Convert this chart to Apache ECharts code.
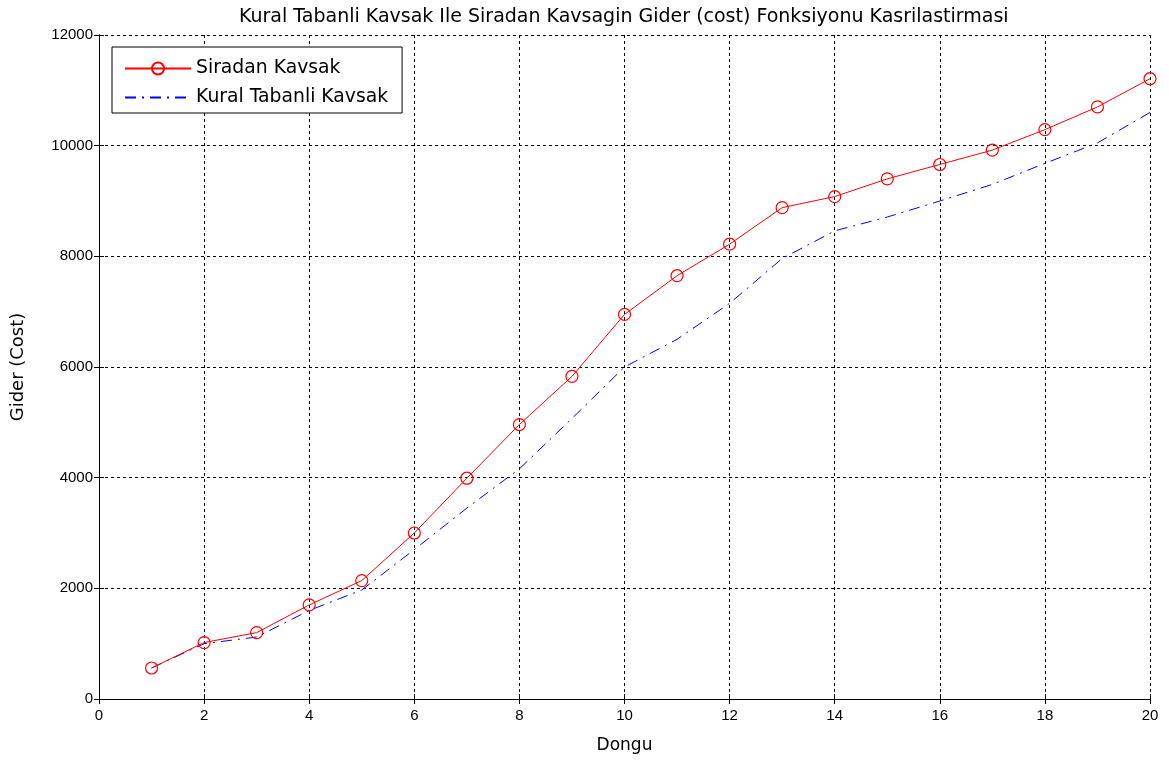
<!DOCTYPE html>
<html><head><meta charset="utf-8">
<script src="https://cdn.jsdelivr.net/npm/echarts@6/dist/echarts.min.js"></script>
<style>html,body{margin:0;padding:0;background:#fff}#c{width:1169px;height:760px}</style>
</head><body><div id="c"></div>
<script>
const iterations = [1,2,3,4,5,6,7,8,9,10,11,12,13,14,15,16,17,18,19,20];
const siradan = [560,1020,1200,1700,2140,3000,3990,4960,5830,6950,7650,8220,8880,9080,9400,9660,9920,10290,10700,11210];
const kural = [560,1000,1120,1600,1970,2700,3450,4160,5070,6000,6500,7150,7960,8460,8710,9000,9300,9680,10050,10600];
const xTicks = [0,2,4,6,8,10,12,14,16,18,20];
const yTicks = [0,2000,4000,6000,8000,10000,12000];
const FONT = 'Liberation Sans';
const WFONT = 'DejaVu Sans';
const chart = echarts.init(document.getElementById('c'), null, {renderer:'canvas'});
const pair = arr => iterations.map((x,i)=>[x, arr[i]]);
const axisCommon = {
  axisLine:{show:true,lineStyle:{color:'#000',width:1}},
  axisTick:{show:true,inside:true,length:5,lineStyle:{color:'#000'}},
  splitLine:{show:true,lineStyle:{color:'#000',type:[3,3],width:1}},
  axisLabel:{color:'#000',fontFamily:FONT,fontSize:15}
};
chart.setOption({
  animation:false,
  backgroundColor:'#fff',
  title:{text:'Kural Tabanli Kavsak Ile Siradan Kavsagin Gider (cost) Fonksiyonu Kasrilastirmasi',
    left:234, top:3, textStyle:{fontFamily:WFONT,fontSize:19,fontWeight:'normal',color:'#000'}},
  grid:{left:99,right:19,top:35,bottom:61,containLabel:false},
  legend:{orient:'vertical',left:112,top:47,backgroundColor:'#fff',borderColor:'#000',borderWidth:1,
    padding:[12,14,6,12],itemGap:10,itemWidth:66,itemHeight:15,
    textStyle:{fontFamily:WFONT,fontSize:18.8,color:'#000'},
    data:[{name:'Siradan Kavsak'},{name:'Kural Tabanli Kavsak',itemStyle:{opacity:0}}]},
  xAxis:[
    Object.assign({}, axisCommon, {type:'value',min:0,max:20,interval:2,name:'Dongu',nameLocation:'middle',nameGap:38,
      nameTextStyle:{fontFamily:WFONT,fontSize:17,color:'#000'},
      axisLabel:Object.assign({},axisCommon.axisLabel,{margin:9,formatter:v=>xTicks.includes(v)?String(v):''})}),
    {type:'value',position:'top',min:0,max:20,interval:2,axisLine:{show:true,lineStyle:{color:'#000'}},
      axisTick:{show:true,inside:true,length:5,lineStyle:{color:'#000'}},axisLabel:{show:false},splitLine:{show:false}}
  ],
  yAxis:[
    Object.assign({}, axisCommon, {type:'value',min:0,max:12000,interval:2000,name:'Gider (Cost)',nameLocation:'middle',nameGap:72,
      nameTextStyle:{fontFamily:WFONT,fontSize:18,color:'#000'},
      axisLabel:Object.assign({},axisCommon.axisLabel,{margin:6,formatter:v=>yTicks.includes(v)?String(v):''})}),
    {type:'value',position:'right',min:0,max:12000,interval:2000,axisLine:{show:true,lineStyle:{color:'#000'}},
      axisTick:{show:true,inside:true,length:5,lineStyle:{color:'#000'}},axisLabel:{show:false},splitLine:{show:false}}
  ],
  series:[
    {name:'Siradan Kavsak',type:'line',data:pair(siradan),symbol:'circle',symbolSize:12,showAllSymbol:true,
      lineStyle:{color:'#ff0000',width:1},itemStyle:{color:'rgba(0,0,0,0)',borderColor:'#ff0000',borderWidth:1.2},z:3},
    {name:'Kural Tabanli Kavsak',type:'line',data:pair(kural),symbol:'none',
      lineStyle:{color:'#0000ff',width:1,type:[11,6,2,6]},itemStyle:{color:'#0000ff'},z:2}
  ]
});
</script></body></html>
